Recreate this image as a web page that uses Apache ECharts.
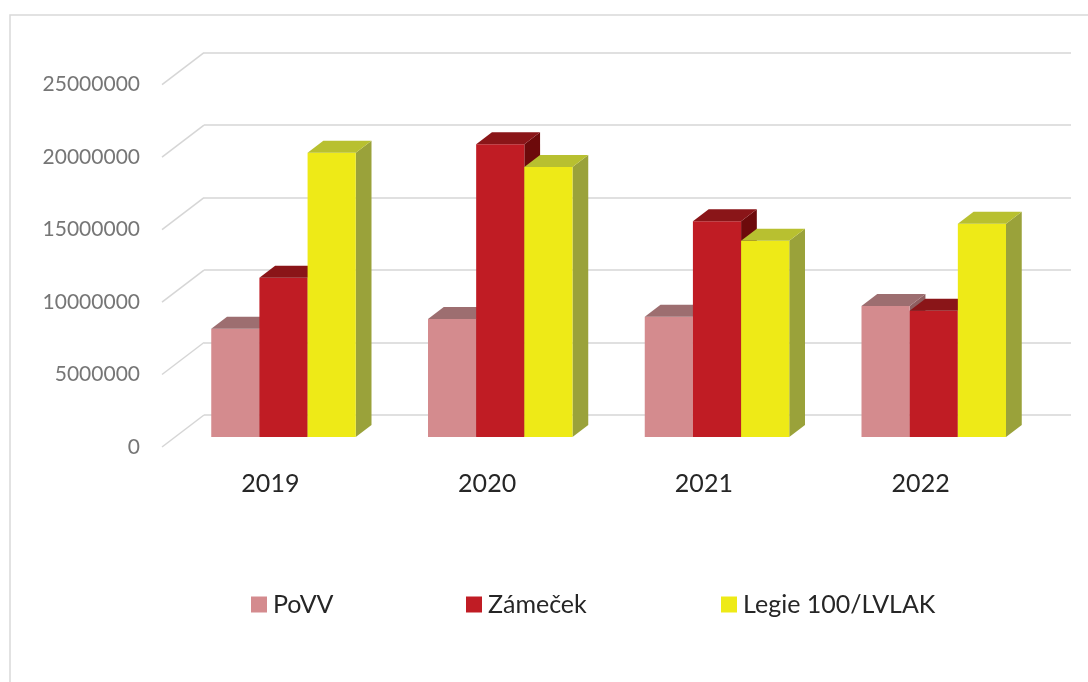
<!DOCTYPE html>
<html>
<head>
<meta charset="utf-8">
<script src="https://cdn.jsdelivr.net/npm/echarts@6/dist/echarts.min.js"></script>
<style>
html,body{margin:0;padding:0;background:#fff;}
#chart{width:1088px;height:682px;}
</style>
</head>
<body>
<div id="chart"></div>
<script>
// ---- data ----
const categories = ['2019', '2020', '2021', '2022'];
const seriesNames = ['PoVV', 'Zámeček', 'Legie 100/LVLAK'];
const povv = [7470000, 8140000, 8300000, 9040000];
const zamecek = [10990000, 20190000, 14880000, 8710000];
const legie = [19610000, 18630000, 13540000, 14710000];
const yTicks = [0, 5000000, 10000000, 15000000, 20000000, 25000000];

// ---- style ----
const faceColors = [
  { front: '#D48B8E', top: '#9D6E70', side: '#8E5E60' },
  { front: '#C01C24', top: '#8A1518', side: '#6D0A0B' },
  { front: '#EEEA17', top: '#B8C030', side: '#9AA23A' }
];
const DEPTH_X = 42, DEPTH_Y = 32;      // floor depth in pixels
const FRONT_GAP = 10 / 32, BAR_DEPTH = 12 / 32;
const GAP_WIDTH = 1.5;                  // gap between groups in bar widths
const N = seriesNames.length;
const gridColor = '#D6D6D6';
const FONT = 'Lato';

function barRender(sIdx) {
  return function (params, api) {
    const cat = api.value(0), val = api.value(1);
    const base = api.coord([cat, 0]);
    const top = api.coord([cat, val]);
    const band = api.size([1, 0])[0];
    const bw = band / (N + GAP_WIDTH);
    const ox = DEPTH_X * FRONT_GAP, oy = DEPTH_Y * FRONT_GAP;
    const dx = DEPTH_X * BAR_DEPTH, dy = DEPTH_Y * BAR_DEPTH;
    const x0 = base[0] - N * bw / 2 + sIdx * bw + ox;
    const x1 = x0 + bw;
    const yb = base[1] - oy, yt = top[1] - oy;
    const c = faceColors[sIdx];
    return {
      type: 'group',
      children: [
        { type: 'polygon', shape: { points: [[x1, yt], [x1 + dx, yt - dy], [x1 + dx, yb - dy], [x1, yb]] },
          style: { fill: c.side } },
        { type: 'rect', shape: { x: x0, y: yt, width: bw, height: yb - yt },
          style: { fill: c.front } },
        { type: 'polygon', shape: { points: [[x0, yt], [x1, yt], [x1 + dx, yt - dy], [x0 + dx, yt - dy]] },
          style: { fill: c.top } }
      ]
    };
  };
}

const seriesData = [povv, zamecek, legie];
const barSeries = seriesData.map((arr, i) => ({
  type: 'custom',
  name: seriesNames[i],
  xAxisIndex: 0, yAxisIndex: 0,
  z: 5,
  itemStyle: { color: faceColors[i].front },
  renderItem: barRender(i),
  data: arr.map((v, k) => [k, v])
}));

const diagSeries = {
  type: 'custom',
  name: '_diag',
  xAxisIndex: 0, yAxisIndex: 0,
  z: 1,
  silent: true,
  renderItem: function (params, api) {
    const y = api.coord([0, api.value(1)])[1];
    const x = params.coordSys.x;
    return { type: 'line', shape: { x1: x, y1: y, x2: x + DEPTH_X, y2: y - DEPTH_Y },
      style: { stroke: gridColor, lineWidth: 1.5 } };
  },
  data: yTicks.map(v => [0, v])
};

const legendPos = [251, 466, 721];
const legends = seriesNames.map((n, i) => ({
  data: [{ name: n, itemStyle: { color: faceColors[i].front } }],
  left: legendPos[i],
  top: 592,
  padding: 0,
  icon: 'rect',
  itemWidth: 16,
  itemHeight: 16,
  selectedMode: false,
  textStyle: { fontFamily: FONT, fontSize: 25, color: '#262626', padding: [0, 0, 0, 1] }
}));

const chart = echarts.init(document.getElementById('chart'), null, { renderer: 'canvas' });
chart.setOption({
  animation: false,
  backgroundColor: '#fff',
  graphic: [{
    type: 'rect', z: 0,
    shape: { x: 10, y: 15, width: 1300, height: 900 },
    style: { fill: 'none', stroke: '#D9D9D9', lineWidth: 1.5 }
  }],
  legend: legends,
  grid: [
    { left: 162, right: 59, top: 84.6, bottom: 235 },
    { left: 204, right: 17, top: 52.6, bottom: 267 }
  ],
  xAxis: [
    { type: 'category', gridIndex: 0, data: categories,
      axisLine: { show: false }, axisTick: { show: false },
      axisLabel: { fontFamily: FONT, fontSize: 25, color: '#262626', margin: 24 } },
    { type: 'category', gridIndex: 1, data: categories, show: false }
  ],
  yAxis: [
    { type: 'value', gridIndex: 0, min: 0, max: 25000000, interval: 5000000,
      axisLine: { show: false }, axisTick: { show: false }, splitLine: { show: false },
      axisLabel: { fontFamily: FONT, fontSize: 21, color: '#767676', margin: 22,
        formatter: v => String(v) } },
    { type: 'value', gridIndex: 1, min: 0, max: 25000000, interval: 5000000,
      axisLine: { show: false }, axisTick: { show: false },
      axisLabel: { show: false },
      splitLine: { show: true, lineStyle: { color: gridColor, width: 1.5 } } }
  ],
  series: [diagSeries].concat(barSeries)
});
</script>
</body>
</html>
